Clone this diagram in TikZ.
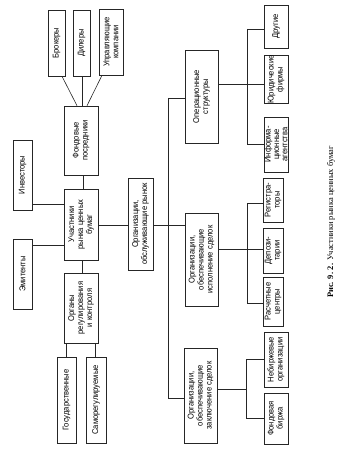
\documentclass[tikz,border=0pt]{standalone}
\usepackage{fontspec}
\setmainfont{Liberation Serif}
\newfontfamily\boxfont[FakeStretch=0.9]{Liberation Sans}
\begin{document}
\begin{tikzpicture}[x=1pt,y=-1pt,
  box/.style={draw=black!85, line width=0.6pt, rotate=90, inner sep=0pt, align=center,
    font=\boxfont\fontsize{8.4}{9}\selectfont},
  conn/.style={draw=black!85, line width=0.6pt}]
\useasboundingbox (0,0) rectangle (338,454);
% left part
\node[box, minimum width=66, minimum height=17] (brok) at (56.5,43) {Брокеры};
\node[box, minimum width=66, minimum height=17] (dil) at (81.5,43) {Дилеры};
\node[box, minimum width=66, minimum height=24] (upr) at (111,42) {Управляющие\\компании};
\node[box, minimum width=69, minimum height=34] (fond) at (81,140.5) {Фондовые\\посредники};
\node[box, minimum width=70, minimum height=19] (inv) at (22.5,175) {Инвесторы};
\node[box, minimum width=71, minimum height=34] (uch) at (81,224.5) {Участники\\рынка ценных\\бумаг};
\node[box, minimum width=70, minimum height=19] (emi) at (22.5,274) {Эмитенты};
\node[box, minimum width=70, minimum height=34] (org) at (81,308) {Органы\\регулирования\\и контроля};
\node[box, minimum width=86, minimum height=19] (gos) at (66.5,400) {Государственные};
\node[box, minimum width=86, minimum height=20] (sam) at (96,400) {Саморегулируемые};
% middle
\node[box, minimum width=92, minimum height=25] (orgr) at (140.5,224) {Организации,\\обслуживающие рынок};
\node[box, minimum width=93, minimum height=33] (oper) at (201.5,96.5) {Операционные\\структуры};
\node[box, minimum width=93, minimum height=33] (exec) at (201.5,259.5) {Организации,\\обеспечивающие\\исполнение сделок};
\node[box, minimum width=95, minimum height=33] (zakl) at (200.5,395.5) {Организации,\\обеспечивающие\\заключение сделок};
% right
\node[box, minimum width=43, minimum height=24] (drug) at (276,26.5) {Другие};
\node[box, minimum width=45, minimum height=24] (yur) at (276,79.5) {Юридические\\фирмы};
\node[box, minimum width=55, minimum height=24, font=\boxfont\fontsize{8.4}{8.4}\selectfont] (inf) at (276,144.5) {Информа-\\ционные\\агентства};
\node[box, minimum width=44, minimum height=20] (reg) at (273,200) {Регистра-\\торы};
\node[box, minimum width=45, minimum height=20] (dep) at (273,250.5) {Депози-\\тарии};
\node[box, minimum width=49, minimum height=20] (ras) at (273,301.5) {Расчетные\\центры};
\node[box, minimum width=55, minimum height=24] (neb) at (276,359.5) {Небиржевые\\организации};
\node[box, minimum width=51, minimum height=24] (fb) at (276,418.5) {Фондовая\\биржа};
% caption
\node[rotate=90, inner sep=0pt, font=\fontsize{8.4}{10}\selectfont] (cap) at (331,222)
  {\textbf{Рис. 9. 2.} Участники рынка ценных бумаг};
% connectors left
\draw[conn] (62,0 |- brok.west) -- (77,0 |- fond.east);
\draw[conn] (82,0 |- dil.west) -- (82,0 |- fond.east);
\draw[conn] (102,0 |- upr.west) -- (87,0 |- fond.east);
\draw[conn] (83,0 |- fond.west) -- (83,0 |- uch.east);
\draw[conn] (inv.south |- 0,204) -- (uch.north |- 0,204);
\draw[conn] (emi.south |- 0,245) -- (uch.north |- 0,245);
\draw[conn] (82,0 |- uch.west) -- (82,0 |- org.east);
\draw[conn] (66,0 |- org.west) -- (66,0 |- gos.east);
\draw[conn] (95,0 |- org.west) -- (95,0 |- sam.east);
\draw[conn] (uch.south |- 0,225) -- (orgr.north |- 0,225);
% main bus
\coordinate (bt) at (168,98);
\coordinate (bm) at (168,225);
\coordinate (bb) at (168,398);
\draw[conn] (orgr.south |- bm) -- (bm);
\draw[conn] (bt) -- (bb);
\draw[conn] (bt) -- (oper.north |- bt);
\draw[conn] (bm) -- (exec.north |- bm);
\draw[conn] (bb) -- (zakl.north |- bb);
% operational children
\coordinate (ot) at (247,29);
\coordinate (ob) at (247,144);
\draw[conn] (oper.south |- 0,84) -- (yur.north |- 0,84);
\draw[conn] (ot) -- (ob);
\draw[conn] (ot) -- (drug.north |- ot);
\draw[conn] (ob) -- (inf.north |- ob);
% exec children
\coordinate (et) at (247,203);
\coordinate (eb) at (247,303);
\draw[conn] (exec.south |- 0,249) -- (dep.north |- 0,249);
\draw[conn] (et) -- (eb);
\draw[conn] (et) -- (reg.north |- et);
\draw[conn] (eb) -- (ras.north |- eb);
% zakl children
\coordinate (zt) at (246,359);
\coordinate (zb) at (246,418);
\draw[conn] (zakl.south |- 0,389) -- (246,389);
\draw[conn] (zt) -- (zb);
\draw[conn] (zt) -- (neb.north |- zt);
\draw[conn] (zb) -- (fb.north |- zb);
\end{tikzpicture}
\end{document}
